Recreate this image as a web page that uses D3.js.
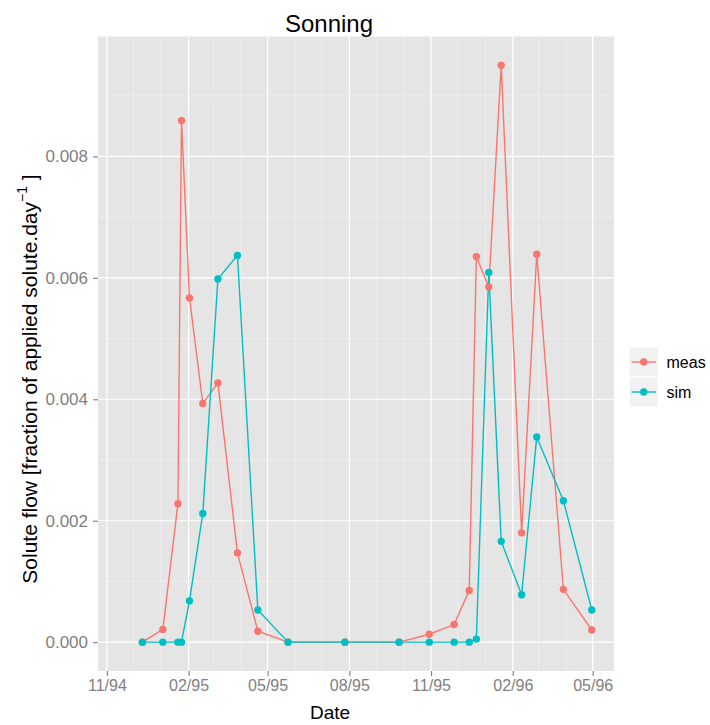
<!DOCTYPE html>
<html>
<head>
<meta charset="utf-8">
<script src="https://cdn.jsdelivr.net/npm/d3@7"></script>
<style>
  html, body { margin: 0; padding: 0; background: #ffffff; }
  svg { display: block; font-family: "Liberation Sans", Arial, sans-serif; }
</style>
</head>
<body>
<svg id="chart" width="710" height="725"></svg>
<script>
// Sampling dates (shared by both series)
const dates = [
  "1994-12-11", "1995-01-03", "1995-01-20", "1995-01-24", "1995-02-02",
  "1995-02-17", "1995-03-06", "1995-03-28", "1995-04-20", "1995-05-24",
  "1995-07-27", "1995-09-26", "1995-10-30", "1995-11-27", "1995-12-14",
  "1995-12-22", "1996-01-05", "1996-01-19", "1996-02-11", "1996-02-28",
  "1996-03-29", "1996-04-30"
];

// Measured solute flow (fraction of applied solute per day)
const meas = [
  0.00000, 0.00021, 0.00228, 0.00859, 0.00567,
  0.00393, 0.00427, 0.00147, 0.00018, 0.00000,
  0.00000, 0.00000, 0.00013, 0.00029, 0.00085,
  0.00635, 0.00585, 0.00950, 0.00180, 0.00639,
  0.00087, 0.00020
];

// Simulated solute flow
const sim = [
  0.00000, 0.00000, 0.00000, 0.00000, 0.00068,
  0.00212, 0.00598, 0.00637, 0.00053, 0.00000,
  0.00000, 0.00000, 0.00000, 0.00000, 0.00000,
  0.00005, 0.00609, 0.00166, 0.00078, 0.00338,
  0.00233, 0.00053
];

const seriesNames = ["meas", "sim"];
const seriesColors = ["#F8766D", "#00BFC4"];

const xTickDates = ["1994-11-01", "1995-02-01", "1995-05-01", "1995-08-01",
                    "1995-11-01", "1996-02-01", "1996-05-01"];
const yTicks = [0, 0.002, 0.004, 0.006, 0.008];
const yMinor = [0.001, 0.003, 0.005, 0.007, 0.009];

const parse = d3.utcParse("%Y-%m-%d");

// Panel geometry
const panel = { left: 98, right: 614, top: 36.5, bottom: 671 };

const yMax = d3.max(meas.concat(sim));
const yPad = yMax * 0.05;

const x = d3.scaleUtc()
  .domain([parse("1994-10-22"), parse("1996-05-25")])
  .range([panel.left, panel.right]);

const y = d3.scaleLinear()
  .domain([-yPad, yMax + yPad])
  .range([panel.bottom, panel.top]);

const svg = d3.select("#chart");

// Panel background
svg.append("rect")
  .attr("x", panel.left).attr("y", panel.top)
  .attr("width", panel.right - panel.left)
  .attr("height", panel.bottom - panel.top)
  .attr("fill", "#E5E5E5");

const grid = svg.append("g");

// Minor grid: monthly verticals, half-step horizontals
const monthly = d3.utcMonth.range(parse("1994-11-01"), parse("1996-05-02"));
grid.selectAll("line.xminor").data(monthly).join("line")
  .attr("class", "xminor")
  .attr("x1", d => x(d)).attr("x2", d => x(d))
  .attr("y1", panel.top).attr("y2", panel.bottom)
  .attr("stroke", "#F2F2F2").attr("stroke-width", 0.6);

grid.selectAll("line.yminor").data(yMinor).join("line")
  .attr("class", "yminor")
  .attr("x1", panel.left).attr("x2", panel.right)
  .attr("y1", d => y(d)).attr("y2", d => y(d))
  .attr("stroke", "#F2F2F2").attr("stroke-width", 0.6);

// Major grid
grid.selectAll("line.xmajor").data(xTickDates.map(parse)).join("line")
  .attr("class", "xmajor")
  .attr("x1", d => x(d)).attr("x2", d => x(d))
  .attr("y1", panel.top).attr("y2", panel.bottom)
  .attr("stroke", "#FFFFFF").attr("stroke-width", 1.1);

grid.selectAll("line.ymajor").data(yTicks).join("line")
  .attr("class", "ymajor")
  .attr("x1", panel.left).attr("x2", panel.right)
  .attr("y1", d => y(d)).attr("y2", d => y(d))
  .attr("stroke", "#FFFFFF").attr("stroke-width", 1.1);

// Series
const series = seriesNames.map((name, i) => ({
  name,
  color: seriesColors[i],
  values: dates.map((d, j) => ({ date: parse(d), v: (i === 0 ? meas : sim)[j] }))
}));

const line = d3.line().x(d => x(d.date)).y(d => y(d.v));

svg.append("g").selectAll("path").data(series).join("path")
  .attr("d", s => line(s.values))
  .attr("fill", "none")
  .attr("stroke", s => s.color)
  .attr("stroke-width", 1.4);

const pts = svg.append("g");
series.forEach(s => {
  pts.selectAll(null).data(s.values).join("circle")
    .attr("cx", d => x(d.date)).attr("cy", d => y(d.v))
    .attr("r", 3.7)
    .attr("fill", s.color);
});

// Axes
const tickColor = "#7F7F7F";
const xAxis = d3.axisBottom(x)
  .tickValues(xTickDates.map(parse))
  .tickFormat(d3.utcFormat("%m/%y"))
  .tickSize(5).tickPadding(4);

const gx = svg.append("g")
  .attr("transform", `translate(0,${panel.bottom})`)
  .call(xAxis);
gx.select(".domain").remove();
gx.selectAll(".tick line").attr("stroke", tickColor).attr("stroke-width", 1.1);
gx.selectAll(".tick text")
  .attr("fill", tickColor)
  .attr("font-size", 16)
  .attr("font-family", "Liberation Sans, Arial, sans-serif");

const yAxis = d3.axisLeft(y)
  .tickValues(yTicks)
  .tickFormat(d3.format(".3f"))
  .tickSize(5).tickPadding(5);

const gy = svg.append("g")
  .attr("transform", `translate(${panel.left},0)`)
  .call(yAxis);
gy.select(".domain").remove();
gy.selectAll(".tick line").attr("stroke", tickColor).attr("stroke-width", 1.1);
gy.selectAll(".tick text")
  .attr("fill", tickColor)
  .attr("font-size", 17)
  .attr("font-family", "Liberation Sans, Arial, sans-serif");

// Title
svg.append("text")
  .attr("x", 329).attr("y", 31.5)
  .attr("text-anchor", "middle")
  .attr("font-size", 24)
  .attr("fill", "#000")
  .text("Sonning");

// X axis title
svg.append("text")
  .attr("x", 330).attr("y", 719)
  .attr("text-anchor", "middle")
  .attr("font-size", 19)
  .attr("fill", "#000")
  .text("Date");

// Y axis title with superscript
const yt = svg.append("text")
  .attr("transform", "translate(37,379) rotate(-90)")
  .attr("text-anchor", "middle")
  .attr("font-size", 21)
  .attr("fill", "#000");
yt.append("tspan").text("Solute flow [fraction of applied solute.day");
yt.append("tspan").attr("dy", -10).attr("font-size", 14).text("\u22121");
yt.append("tspan").attr("dy", 10).text(" ]");

// Legend
const legend = svg.append("g").attr("transform", "translate(629,347)");
const keyW = 29.5, keyH = 30;
series.forEach((s, i) => {
  const g = legend.append("g").attr("transform", `translate(0,${i * keyH})`);
  g.append("rect")
    .attr("width", keyW).attr("height", keyH)
    .attr("fill", "#F2F2F2")
    .attr("stroke", "#FFFFFF").attr("stroke-width", 1);
  g.append("line")
    .attr("x1", 2.5).attr("x2", keyW - 2.5)
    .attr("y1", keyH / 2).attr("y2", keyH / 2)
    .attr("stroke", s.color).attr("stroke-width", 1.4);
  g.append("circle")
    .attr("cx", keyW / 2).attr("cy", keyH / 2).attr("r", 3.7)
    .attr("fill", s.color);
  g.append("text")
    .attr("x", keyW + 8).attr("y", keyH / 2)
    .attr("dy", "0.36em")
    .attr("font-size", 16)
    .attr("fill", "#000")
    .text(s.name);
});
</script>
</body>
</html>
